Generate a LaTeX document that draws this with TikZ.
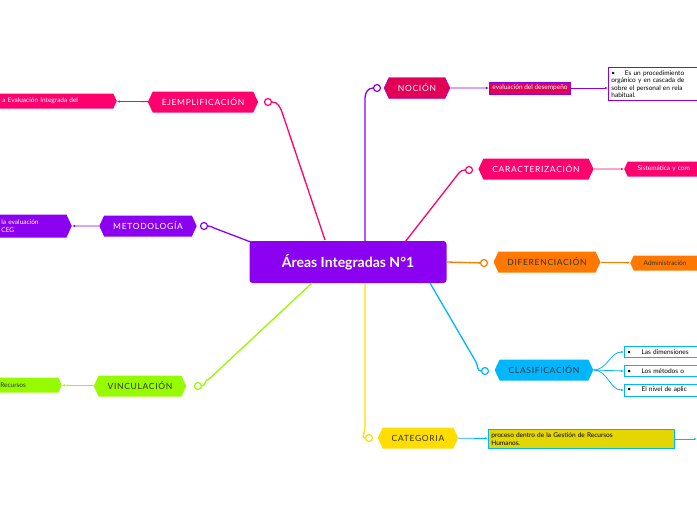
\documentclass[tikz,border=0pt]{standalone}
\usepackage{fontspec}
\setmainfont{Lato}
\usetikzlibrary{shapes.symbols, arrows.meta}
\definecolor{violeta}{RGB}{139,0,240}
\definecolor{carmin}{RGB}{225,0,85}
\definecolor{rosa}{RGB}{255,0,110}
\definecolor{naranja}{RGB}{255,120,0}
\definecolor{celeste}{RGB}{0,182,255}
\definecolor{amarillo}{RGB}{255,221,0}
\definecolor{oliva}{RGB}{228,214,0}
\definecolor{lima}{RGB}{150,250,0}
\tikzstyle{main} = [rectangle, fill=violeta, text=white, minimum width=197pt,
    minimum height=42pt, rounded corners=3pt, font=\fontsize{14}{16}\selectfont\bfseries]
\tikzstyle{topic} = [signal, signal to=west and east, signal pointer angle=130,
    inner xsep=9pt, minimum height=21pt, font=\fontsize{8.5}{9}\selectfont\addfontfeature{LetterSpace=8}]
\tikzstyle{sub} = [signal, signal to=west and east, signal pointer angle=130,
    inner sep=2pt, minimum height=15pt, text=white, align=left, font=\fontsize{6.5}{7.5}\selectfont]
\tikzstyle{note} = [rectangle, draw, line width=0.8pt, inner sep=3pt, align=left,
    font=\fontsize{6.5}{7.5}\selectfont]
\tikzstyle{knob} = [circle, draw, fill=white, line width=1.2pt, inner sep=0pt, minimum size=7pt]
\tikzstyle{link} = [line width=1.3pt]
\tikzstyle{tip} = [draw, line width=0.8pt, -{Latex[length=3pt]}]
\begin{document}
\begin{tikzpicture}[x=1pt, y=-1pt]
    \useasboundingbox (0,0) rectangle (697,520);
    \clip (0,0) rectangle (697,520);
    % Place nodes
    \node [main] (areas) at (348,262) {Áreas Integradas N°1};
    \node [topic, fill=carmin, draw=violeta, text=white] (nocion) at (417,88) {NOCIÓN};
    \node [topic, fill=rosa, text=white] (caract) at (536,169) {CARACTERIZACIÓN};
    \node [topic, fill=naranja, text=black!80] (difer) at (547,262) {DIFERENCIACIÓN};
    \node [topic, fill=celeste, text=black!80] (clasif) at (544,370) {CLASIFICACIÓN};
    \node [topic, fill=amarillo, text=black!80] (categ) at (418,438) {CATEGORIA};
    \node [topic, fill=lima, text=black!80] (vincul) at (140,386) {VINCULACIÓN};
    \node [topic, fill=violeta, text=white] (metod) at (148,226) {METODOLOGÍA};
    \node [topic, fill=rosa, text=white] (ejempl) at (203,102) {EJEMPLIFICACIÓN};
    % Knobs
    \node [knob, draw=violeta] (k_nocion) at (377,88) {};
    \node [knob, draw=rosa] (k_caract) at (469,170) {};
    \node [knob, draw=naranja] (k_difer) at (484,263) {};
    \node [knob, draw=celeste] (k_clasif) at (485,371) {};
    \node [knob, draw=amarillo] (k_categ) at (369,438) {};
    \node [knob, draw=lima] (k_vincul) at (198,386) {};
    \node [knob, draw=violeta] (k_metod) at (204,226) {};
    \node [knob, draw=rosa] (k_ejempl) at (268,102) {};
    % Sub nodes
    \node [rectangle, fill=carmin, draw=violeta, line width=0.8pt, text=white, inner sep=3pt,
        font=\fontsize{6.5}{7}\selectfont] (evalua) at (530,88) {evaluación del desempeño};
    \node [note, draw=violeta, anchor=north west, text width=110pt] (proced) at (608,67)
        {\textbullet\hspace{1.5em}Es un procedimiento\\orgánico y en cascada de\\sobre el personal en rela\\habitual.};
    \node [sub, fill=rosa, anchor=west, text width=110pt] (sistem) at (624,169) {\hspace{8pt}Sistemática y com};
    \node [sub, fill=naranja, text=black!80, anchor=west, text width=110pt] (admin) at (630,263) {\hspace{8pt}Administración};
    \node [note, draw=celeste, anchor=west, text width=100pt] (dimen) at (624,352) {\textbullet\hspace{1.6em}Las dimensiones};
    \node [note, draw=celeste, anchor=west, text width=100pt] (metodos) at (624,371) {\textbullet\hspace{1.6em}Los métodos o};
    \node [note, draw=celeste, anchor=west, text width=100pt] (nivel) at (624,390) {\textbullet\hspace{1.6em}El nivel de aplic};
    \node [note, draw=celeste, fill=oliva, anchor=west, text width=180pt] (proceso) at (488,439)
        {proceso dentro de la Gestión de Recursos\\Humanos.};
    \coordinate (fuera) at (697,439);
    \node [sub, fill=lima, text=black!80, anchor=east, text width=56pt] (recur) at (62,385) {Recursos};
    \node [sub, fill=violeta, anchor=east, text width=80pt, minimum height=23pt] (laeval) at (72,226) {\hspace{17pt}la evaluación\\\hspace{17pt}CEG};
    \node [sub, fill=rosa, anchor=east, text width=125pt] (integ) at (117,101) {\hspace{16pt}a Evaluación Integrada del};
    % Draw edges
    \draw [link, violeta] (365,241) -- (365,98) to[out=90, in=180] (k_nocion);
    \draw [link, rosa] (405,242) -- (455,178) to[out=50, in=180] (k_caract);
    \draw [link, naranja] (areas.east) -- (k_difer);
    \draw [link, celeste] (430,283) -- (476,362) to[out=-60, in=180] (k_clasif);
    \draw [link, amarillo] (365,283) -- (365,428) to[out=-90, in=180] (k_categ);
    \draw [link, lima] (312,283) -- (208,380) to[out=140, in=0] (k_vincul);
    \draw [link, violeta] (256,244) -- (214,228) to[out=160, in=0] (k_metod);
    \draw [link, rosa] (325,240) -- (282,112) to[out=110, in=0] (k_ejempl);
    \path [tip, violeta] (nocion) -- (evalua);
    \path [tip, violeta] (evalua) -- (proced.west |- evalua);
    \path [tip, rosa] (caract) -- (sistem);
    \path [tip, naranja] (difer) -- (admin);
    \path [tip, celeste] (clasif.east) to[out=0, in=180] (dimen.west);
    \path [tip, celeste] (clasif.east) -- (metodos.west);
    \path [tip, celeste] (clasif.east) to[out=0, in=180] (nivel.west);
    \path [tip, celeste] (categ) -- (proceso);
    \path [tip, celeste] (proceso) -- (fuera);
    \path [tip, lima] (vincul) -- (recur);
    \path [tip, violeta] (metod) -- (laeval);
    \path [tip, rosa] (ejempl) -- (integ);
\end{tikzpicture}
\end{document}
